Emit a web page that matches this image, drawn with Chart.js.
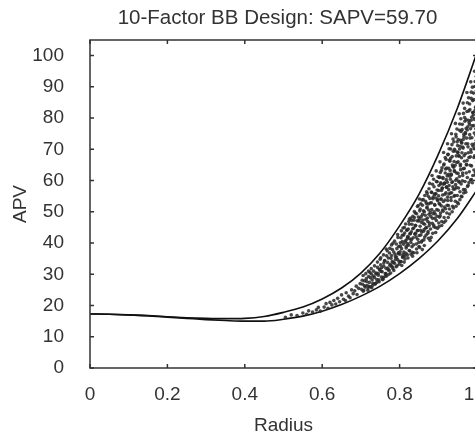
<!DOCTYPE html>
<html>
<head>
<meta charset="utf-8">
<script src="https://cdn.jsdelivr.net/npm/chart.js@4.4.0/dist/chart.umd.min.js"></script>
<style>
    html, body { margin: 0; padding: 0; background: #fff; overflow: hidden; width: 475px; height: 439px; }
    #grafico { position: absolute; left: 0; top: 0; }
</style>
</head>
<body>
<canvas id="grafico" width="555" height="439"></canvas>
<script>
const titulo = "10-Factor BB Design: SAPV=59.70";

// raio onde as curvas foram lidas
const raios = [0, 0.05, 0.1, 0.15, 0.2, 0.25, 0.3, 0.35, 0.4, 0.45, 0.5,
    0.55, 0.6, 0.65, 0.7, 0.75, 0.8, 0.85, 0.9, 0.95, 1.0];

// envelope superior (max APV) e inferior (min APV)
const apvMax = [17.3, 17.2, 17.0, 16.8, 16.4, 16.1, 15.9, 15.8, 15.9, 16.5, 17.8,
    19.5, 22.1, 25.6, 30.4, 36.9, 45.5, 55.6, 68.4, 83.4, 101];
const apvMin = [17.3, 17.2, 17.0, 16.7, 16.3, 15.9, 15.5, 15.2, 15.0, 15.0, 15.6,
    16.6, 18.2, 20.3, 23.0, 26.2, 30.2, 35.0, 40.8, 48.0, 57.0];

// nuvem de pontos [raio, apv]
const nuvem = [
    [0.505,16.2],[0.52,17.0],[0.535,16.8],[0.55,17.6],[0.56,17.2],[0.565,18.3],[0.575,17.9],[0.585,18.6],[0.59,19.4],[0.595,18.2],
    [0.605,19.5],[0.61,20.6],[0.615,19.1],[0.62,21.0],[0.625,20.2],[0.63,21.6],[0.635,20.5],[0.64,22.3],[0.645,21.2],[0.65,23.4],
    [0.655,22.0],[0.66,21.6],[0.662,24.1],[0.668,23.0],[0.672,22.5],[0.676,25.0],[0.68,23.8],[0.684,24.7],[0.688,26.2],[0.69,23.5],
    [0.694,25.5],[0.698,27.0],
    [0.701,25.2],[0.704,26.8],[0.706,24.6],[0.709,27.9],[0.711,25.9],[0.714,28.6],[0.716,26.5],[0.718,24.9],[0.72,29.3],[0.722,27.4],
    [0.725,26.0],[0.727,30.1],[0.729,28.2],[0.731,27.1],[0.733,31.0],[0.735,29.0],[0.737,26.9],[0.739,30.4],[0.741,28.3],[0.743,32.2],
    [0.745,29.7],[0.747,27.6],[0.749,31.4],[0.751,33.0],[0.753,29.1],[0.755,30.8],[0.757,28.4],[0.759,32.6],[0.761,34.3],[0.763,30.2],
    [0.765,31.9],[0.767,29.5],[0.769,33.8],[0.771,35.2],[0.773,31.3],[0.775,32.9],[0.777,30.4],[0.779,36.0],[0.781,34.1],[0.783,31.8],
    [0.785,37.1],[0.787,33.5],[0.789,35.6],[0.791,32.4],[0.793,38.2],[0.795,34.7],[0.797,36.9],[0.799,33.2],
    [0.801,36.4],[0.802,40.1],[0.804,34.0],[0.805,38.2],[0.807,42.5],[0.808,35.7],[0.81,39.6],[0.811,37.1],[0.813,43.2],[0.814,34.9],
    [0.816,40.8],[0.817,38.4],[0.819,44.1],[0.82,36.2],[0.822,41.9],[0.823,39.3],[0.825,46.0],[0.826,37.5],[0.828,43.0],[0.829,40.2],
    [0.831,47.3],[0.832,38.8],[0.834,44.6],[0.835,41.7],[0.837,36.9],[0.838,48.2],[0.84,42.9],[0.841,45.5],[0.843,39.7],[0.844,49.4],
    [0.846,44.0],[0.847,41.2],[0.849,47.1],[0.85,38.9],[0.852,50.3],[0.853,45.4],[0.855,42.6],[0.856,48.5],[0.858,40.7],[0.859,52.1],
    [0.861,46.3],[0.862,43.8],[0.864,50.0],[0.865,41.9],[0.867,53.4],[0.868,47.6],[0.87,45.0],[0.871,51.5],[0.873,43.1],[0.874,55.0],
    [0.876,49.2],[0.877,46.4],[0.879,52.8],[0.88,44.5],[0.882,56.3],[0.883,50.7],[0.885,47.9],[0.886,54.2],[0.888,45.8],[0.889,58.0],
    [0.891,52.1],[0.892,49.3],[0.894,55.8],[0.895,47.2],[0.897,59.6],[0.898,53.6],[0.9,50.5],
    [0.901,56.8],[0.902,45.3],[0.903,61.0],[0.904,52.4],[0.905,48.7],[0.906,58.9],[0.907,54.1],[0.908,63.2],[0.909,46.9],[0.91,57.5],
    [0.911,50.6],[0.912,60.7],[0.913,53.3],[0.914,65.0],[0.915,48.2],[0.916,59.1],[0.917,55.6],[0.918,62.4],[0.919,51.0],[0.92,66.8],
    [0.921,57.9],[0.922,49.6],[0.923,61.5],[0.924,54.7],[0.925,68.3],[0.926,52.0],[0.927,63.9],[0.928,58.4],[0.929,50.9],[0.93,66.2],
    [0.931,56.0],[0.932,70.1],[0.933,53.6],[0.934,61.8],[0.935,59.4],[0.936,67.7],[0.937,51.8],[0.938,64.5],[0.939,57.2],[0.94,72.4],
    [0.941,55.0],[0.942,62.9],[0.943,69.5],[0.944,53.4],[0.945,60.1],[0.946,74.0],[0.947,57.8],[0.948,65.8],[0.949,55.2],[0.95,71.2],
    [0.951,62.3],[0.952,52.6],[0.953,68.0],[0.954,59.5],[0.955,76.1],[0.956,56.4],[0.957,64.7],[0.958,72.9],[0.959,58.9],[0.96,67.3],
    [0.961,54.8],[0.962,78.0],[0.963,61.6],[0.964,70.4],[0.965,57.1],[0.966,74.8],[0.967,63.9],[0.968,80.2],[0.969,59.7],[0.97,68.6],
    [0.971,56.3],[0.972,76.7],[0.973,65.2],[0.974,82.1],[0.975,61.0],[0.976,71.8],[0.977,58.5],[0.978,79.3],[0.979,67.4],[0.98,62.8],
    [0.981,84.5],[0.982,73.6],[0.983,60.2],[0.984,69.9],[0.985,86.3],[0.986,64.7],[0.987,77.5],[0.988,59.3],[0.989,81.8],[0.99,71.0],
    [0.991,88.0],[0.992,63.4],[0.993,75.2],[0.994,67.9],[0.995,90.1],[0.996,61.7],[0.997,83.6],[0.998,72.8],[0.999,66.0],[1.0,79.4],
    // segunda leitura, mais densa
    [0.7034,28.1],[0.7071,24.9],[0.7058,29.6],[0.7092,26.3],[0.7127,30.2],[0.7183,25.6],[0.7149,27.7],[0.7196,31.0],
    [0.7212,26.1],[0.7268,31.8],[0.7245,28.9],[0.7281,25.7],[0.7233,30.6],[0.7316,29.4],[0.7371,27.0],[0.7352,32.7],[0.7389,30.1],[0.7307,26.5],
    [0.7428,33.9],[0.7463,28.2],[0.7481,31.6],[0.7445,30.3],[0.7497,34.8],[0.7412,27.4],
    [0.7536,32.1],[0.7578,29.0],[0.7514,35.3],[0.7592,33.6],[0.7557,28.3],[0.7523,30.9],[0.7584,36.2],
    [0.7617,34.4],[0.7644,30.2],[0.7681,37.5],[0.7629,29.3],[0.7665,35.9],[0.7698,32.0],[0.7653,38.1],
    [0.7706,31.4],[0.7739,36.8],[0.7762,33.2],[0.7791,39.4],[0.7724,30.0],[0.7778,35.1],[0.7748,38.3],[0.7795,32.6],
    [0.7812,37.9],[0.7836,33.8],[0.7869,40.6],[0.7851,31.2],[0.7883,36.4],[0.7827,39.9],[0.7894,34.7],[0.7808,32.3],
    [0.7921,35.5],[0.7958,41.8],[0.7934,32.7],[0.7976,38.9],[0.7949,42.7],[0.7987,34.1],[0.7915,39.7],[0.7969,36.6],
    [0.8013,37.2],[0.8046,43.9],[0.8029,34.1],[0.8071,40.5],[0.8088,44.8],[0.8057,32.8],[0.8034,41.7],[0.8095,36.3],[0.8018,39.0],[0.8079,35.4],
    [0.8106,42.6],[0.8131,35.8],[0.8154,46.1],[0.8172,38.9],[0.8119,33.9],[0.8188,44.2],[0.8143,40.3],[0.8165,36.7],[0.8197,41.4],[0.8125,45.0],
    [0.8204,39.8],[0.8237,46.9],[0.8216,35.2],[0.8263,43.0],[0.8289,48.0],[0.8248,37.6],[0.8271,41.3],[0.8225,44.5],[0.8295,36.4],[0.8252,47.7],[0.8211,42.1],
    [0.8308,41.1],[0.8342,48.6],[0.8327,37.0],[0.8364,44.8],[0.8381,50.1],[0.8319,46.0],[0.8356,39.4],[0.8393,42.9],[0.8335,35.8],[0.8371,47.3],[0.8302,43.6],
    [0.8412,45.7],[0.8438,38.1],[0.8461,51.7],[0.8427,41.9],[0.8486,48.3],[0.8449,36.9],[0.8473,44.0],[0.8495,40.2],[0.8405,49.6],[0.8456,47.1],[0.8481,52.0],[0.8419,43.2],
    [0.8507,42.4],[0.8532,50.9],[0.8518,38.6],[0.8556,46.7],[0.8579,53.8],[0.8541,44.1],[0.8563,40.3],[0.8594,49.2],[0.8525,47.8],[0.8587,37.9],[0.8548,52.6],[0.8571,43.5],[0.8512,54.1],
    [0.8603,47.4],[0.8628,41.0],[0.8651,55.2],[0.8617,50.3],[0.8674,44.8],[0.8639,39.2],[0.8692,52.7],[0.8662,48.9],[0.8685,42.6],[0.8611,53.9],[0.8646,46.0],[0.8698,56.4],[0.8633,44.3],
    [0.8704,51.2],[0.8736,43.7],[0.8759,57.4],[0.8721,48.0],[0.8783,54.3],[0.8748,41.5],[0.8795,49.8],[0.8767,45.6],[0.8712,55.9],[0.8777,59.1],[0.8742,52.5],[0.8789,40.8],[0.8728,46.9],[0.8754,50.6],
    [0.8806,48.5],[0.8831,56.2],[0.8857,43.1],[0.8822,52.9],[0.8879,60.4],[0.8844,46.3],[0.8868,54.7],[0.8893,50.0],[0.8815,41.8],[0.8851,58.8],[0.8886,45.2],[0.8838,61.6],[0.8862,49.4],[0.8899,55.5],
    [0.8904,52.3],[0.8927,45.0],[0.8951,59.7],[0.8918,55.8],[0.8972,48.6],[0.8946,63.1],[0.8985,53.9],[0.8933,43.4],[0.8961,50.7],[0.8994,61.2],[0.8912,47.9],[0.8968,57.0],[0.8939,54.4],[0.8981,44.7],
    [0.9008,55.1],[0.9031,48.3],[0.9052,62.6],[0.9017,58.4],[0.9076,51.9],[0.9043,66.0],[0.9089,45.6],[0.9064,59.3],[0.9021,52.7],[0.9095,64.1],[0.9058,49.6],[0.9082,56.8],[0.9036,61.1],[0.9071,54.0],[0.9013,46.4],
    [0.9104,57.6],[0.9126,50.2],[0.9149,65.3],[0.9117,61.0],[0.9173,53.8],[0.9138,69.0],[0.9191,47.1],[0.9162,59.2],[0.9112,55.4],[0.9185,63.7],[0.9153,51.5],[0.9179,67.4],[0.9131,58.8],[0.9197,56.1],[0.9144,46.6],
    [0.9206,60.3],[0.9228,52.1],[0.9251,68.4],[0.9217,64.0],[0.9274,55.7],[0.9239,71.8],[0.9292,49.3],[0.9263,62.0],[0.9213,57.9],[0.9286,66.5],[0.9245,53.6],[0.9279,70.2],[0.9232,59.5],[0.9298,61.4],[0.9257,48.2],[0.9268,57.1],
    [0.9307,63.2],[0.9329,54.6],[0.9352,71.5],[0.9318,67.1],[0.9375,58.0],[0.9341,75.0],[0.9393,51.2],[0.9364,65.0],[0.9312,60.4],[0.9387,69.4],[0.9346,56.1],[0.9381,73.3],[0.9334,62.1],[0.9398,64.3],[0.9358,50.0],[0.9369,59.6],
    [0.9408,66.1],[0.9431,57.3],[0.9453,74.8],[0.9419,70.0],[0.9476,60.6],[0.9442,78.3],[0.9494,53.0],[0.9465,67.9],[0.9414,63.2],[0.9488,72.4],[0.9447,58.7],[0.9482,76.5],[0.9436,64.9],[0.9499,69.1],[0.9459,51.8],[0.9471,62.4],[0.9425,55.2],
    [0.9506,69.0],[0.9529,59.8],[0.9552,78.1],[0.9518,73.1],[0.9577,63.5],[0.9541,81.4],[0.9593,55.0],[0.9564,71.0],[0.9512,66.0],[0.9588,75.7],[0.9547,61.3],[0.9583,79.8],[0.9536,67.8],[0.9597,72.3],[0.9558,53.9],[0.9571,65.2],[0.9523,57.6],[0.9549,70.1],
    [0.9607,72.0],[0.9628,62.4],[0.9651,81.5],[0.9616,76.3],[0.9674,66.2],[0.9642,84.8],[0.9692,57.1],[0.9663,74.1],[0.9611,68.9],[0.9686,79.0],[0.9645,63.8],[0.9681,83.1],[0.9633,70.7],[0.9698,75.4],[0.9656,56.0],[0.9669,68.0],[0.9622,59.9],[0.9648,73.2],
    [0.9704,75.0],[0.9727,65.0],[0.9751,84.9],[0.9716,79.5],[0.9774,68.9],[0.9739,88.2],[0.9793,59.4],[0.9762,77.2],[0.9712,71.8],[0.9787,82.3],[0.9745,66.4],[0.9781,86.5],[0.9733,73.6],[0.9797,78.6],[0.9756,58.1],[0.9768,70.8],[0.9721,62.4],[0.9748,76.2],
    [0.9806,78.0],[0.9829,67.6],[0.9852,88.3],[0.9817,82.7],[0.9875,71.6],[0.9838,91.6],[0.9893,61.6],[0.9864,80.3],[0.9812,74.7],[0.9887,85.6],[0.9846,69.1],[0.9881,89.9],[0.9834,76.6],[0.9898,81.8],[0.9858,60.3],[0.9869,73.7],[0.9823,64.9],[0.9849,79.3],
    [0.9904,81.0],[0.9927,70.2],[0.9951,91.7],[0.9916,85.9],[0.9974,74.4],[0.9939,95.0],[0.9993,63.9],[0.9962,83.4],[0.9912,77.6],[0.9986,88.9],[0.9945,71.8],[0.9981,93.3],[0.9933,79.6],[0.9998,85.0],[0.9957,62.6],[0.9968,76.6],[0.9921,67.4],[0.9947,82.4]
];

const ticksX = [0, 0.2, 0.4, 0.6, 0.8, 1];
const ticksY = [0, 10, 20, 30, 40, 50, 60, 70, 80, 90, 100];

const corTexto = "#333";
const fonte = "'Liberation Sans', Arial, sans-serif";

// moldura com marcas de escala para dentro + titulo
const moldura = {
    id: "moldura",
    afterDraw(chart) {
        const { ctx, chartArea: a, scales: { x, y } } = chart;
        ctx.save();
        ctx.strokeStyle = "#333";
        ctx.lineWidth = 1.5;
        ctx.strokeRect(a.left, a.top, a.right - a.left, a.bottom - a.top);
        ctx.beginPath();
        ticksX.forEach(v => {
            const px = x.getPixelForValue(v);
            ctx.moveTo(px, a.bottom); ctx.lineTo(px, a.bottom - 4);
            ctx.moveTo(px, a.top); ctx.lineTo(px, a.top + 4);
        });
        ticksY.forEach(v => {
            const py = y.getPixelForValue(v);
            ctx.moveTo(a.left, py); ctx.lineTo(a.left + 4, py);
            ctx.moveTo(a.right, py); ctx.lineTo(a.right - 4, py);
        });
        ctx.stroke();

        ctx.fillStyle = corTexto;
        ctx.font = "20.5px " + fonte;
        ctx.textAlign = "center";
        ctx.textBaseline = "middle";
        ctx.fillText(titulo, 277.5, 18);
        ctx.restore();
    }
};

const linha = (vals) => ({
    type: "line",
    data: raios.map((r, i) => ({ x: r, y: vals[i] })),
    borderColor: "#111",
    borderWidth: 1.6,
    pointRadius: 0,
    cubicInterpolationMode: "monotone",
    fill: false
});

new Chart(document.getElementById("grafico"), {
    type: "scatter",
    data: {
        datasets: [
            {
                data: nuvem.map(p => ({ x: p[0], y: p[1] })),
                backgroundColor: "rgba(40,40,40,0.85)",
                borderWidth: 0,
                pointRadius: 1.8
            },
            linha(apvMax),
            linha(apvMin)
        ]
    },
    options: {
        responsive: false,
        animation: false,
        layout: { padding: { left: 0, right: 78, top: 40, bottom: 0 } },
        plugins: {
            legend: { display: false },
            tooltip: { enabled: false },
            title: { display: false }
        },
        scales: {
            x: {
                type: "linear",
                min: 0, max: 1,
                afterBuildTicks: s => { s.ticks = ticksX.map(v => ({ value: v })); },
                afterFit: s => { s.height = 71; },
                grid: { display: false },
                border: { display: false },
                ticks: { color: corTexto, padding: 7, font: { family: fonte, size: 19 } },
                title: { display: true, text: "Radius", color: corTexto, padding: { top: 0, bottom: 2 },
                    font: { family: fonte, size: 19 } }
            },
            y: {
                min: 0, max: 105,
                afterBuildTicks: s => { s.ticks = ticksY.map(v => ({ value: v })); },
                afterFit: s => { s.width = 90; },
                grid: { display: false },
                border: { display: false },
                ticks: { color: corTexto, padding: 18, font: { family: fonte, size: 19 } },
                title: { display: true, text: "APV", color: corTexto, padding: { top: 9, bottom: 0 },
                    font: { family: fonte, size: 19 } }
            }
        }
    },
    plugins: [moldura]
});
</script>
</body>
</html>
